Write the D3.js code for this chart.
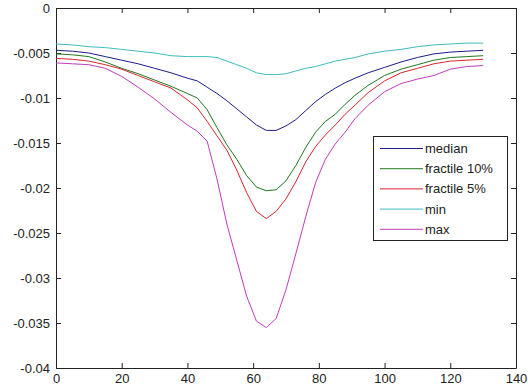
<!DOCTYPE html>
<html>
<head>
<meta charset="utf-8">
<script src="https://cdn.jsdelivr.net/npm/d3@7"></script>
<style>
  html, body { margin: 0; padding: 0; background: #fff; }
  svg { display: block; }
  .axis text { font-family: "Liberation Sans", Arial, sans-serif; font-size: 13px; fill: #222; }
  .axis line, .axis path { stroke: #222; }
  .legend text { font-family: "Liberation Sans", Arial, sans-serif; font-size: 13px; fill: #222; }
</style>
</head>
<body>
<div id="chart"></div>
<script>
const xs = [0, 5, 10, 15, 20, 25, 30, 35, 40, 43, 46, 49, 52, 55, 58, 61, 64, 67, 70,
  73, 76, 79, 82, 85, 88, 91, 95, 100, 105, 110, 115, 120, 125, 130];

const median = [-0.0047, -0.0048, -0.0050, -0.0054, -0.0058, -0.0062, -0.0067, -0.0072, -0.0078,
  -0.0081, -0.0088, -0.0095, -0.0103, -0.0112, -0.0121, -0.0130, -0.0136, -0.0136, -0.0131,
  -0.0124, -0.0114, -0.0104, -0.0096, -0.0089, -0.0083, -0.0078, -0.0072, -0.0066, -0.0060,
  -0.0055, -0.0051, -0.0049, -0.0048, -0.0047];

const fractile10 = [-0.0051, -0.0052, -0.0054, -0.0060, -0.0067, -0.0073, -0.0080, -0.0087, -0.0095,
  -0.0100, -0.0113, -0.0133, -0.0152, -0.0168, -0.0186, -0.0199, -0.0203, -0.0202, -0.0192,
  -0.0175, -0.0155, -0.0138, -0.0126, -0.0118, -0.0107, -0.0097, -0.0086, -0.0075, -0.0068,
  -0.0063, -0.0058, -0.0055, -0.0054, -0.0053];

const fractile5 = [-0.0056, -0.0057, -0.0059, -0.0063, -0.0068, -0.0075, -0.0082, -0.0089, -0.0102,
  -0.0111, -0.0126, -0.0142, -0.0158, -0.0180, -0.0205, -0.0226, -0.0234, -0.0226, -0.0212,
  -0.0193, -0.0171, -0.0154, -0.0141, -0.0130, -0.0118, -0.0108, -0.0094, -0.0081, -0.0072,
  -0.0067, -0.0062, -0.0059, -0.0058, -0.0057];

const minSeries = [-0.0040, -0.0041, -0.0043, -0.0044, -0.0046, -0.0048, -0.0050, -0.0053, -0.0054,
  -0.0054, -0.0054, -0.0055, -0.0059, -0.0063, -0.0067, -0.0072, -0.0074, -0.0074, -0.0073,
  -0.0070, -0.0067, -0.0065, -0.0062, -0.0059, -0.0057, -0.0055, -0.0051, -0.0048, -0.0046,
  -0.0043, -0.0041, -0.0040, -0.0039, -0.0039];

const maxSeries = [-0.0061, -0.0062, -0.0063, -0.0067, -0.0076, -0.0088, -0.0101, -0.0116, -0.0130,
  -0.0137, -0.0148, -0.0190, -0.0240, -0.0280, -0.0320, -0.0348, -0.0355, -0.0345, -0.0313,
  -0.0273, -0.0232, -0.0194, -0.0168, -0.0151, -0.0138, -0.0123, -0.0108, -0.0093, -0.0084,
  -0.0079, -0.0075, -0.0068, -0.0065, -0.0064];

const seriesNames = ['median', 'fractile 10%', 'fractile 5%', 'min', 'max'];
const seriesColors = ['#1c1c8a', '#1f7a1f', '#d8262e', '#3cbcc0', '#c03cc0'];
const seriesValues = [median, fractile10, fractile5, minSeries, maxSeries];

const xTicks = [0, 20, 40, 60, 80, 100, 120, 140];
const yTicks = [0, -0.005, -0.01, -0.015, -0.02, -0.025, -0.03, -0.035, -0.04];

const width = 528, height = 389;
const margin = { top: 8, right: 12, bottom: 21, left: 56 };
const W = width - margin.left - margin.right;
const H = height - margin.top - margin.bottom;

const x = d3.scaleLinear().domain([0, 140]).range([0, W]);
const y = d3.scaleLinear().domain([-0.04, 0]).range([H, 0]);

const svg = d3.select('#chart').append('svg')
  .attr('width', width)
  .attr('height', height);

const g = svg.append('g').attr('transform', `translate(${margin.left},${margin.top})`);

const fmt = d => d === 0 ? '0' : String(+d.toFixed(3));

// axes (ticks point inward, like the matlab box)
g.append('g').attr('class', 'axis')
  .attr('transform', `translate(0,${H})`)
  .call(d3.axisBottom(x).tickValues(xTicks).tickSizeInner(-5).tickSizeOuter(0).tickPadding(4).tickFormat(d3.format('d')))
  .call(a => a.selectAll('text').attr('dy', '0.85em'));

g.append('g').attr('class', 'axis')
  .call(d3.axisLeft(y).tickValues(yTicks).tickSizeInner(-5).tickSizeOuter(0).tickPadding(6).tickFormat(fmt));

g.append('g').attr('class', 'axis')
  .call(d3.axisTop(x).tickValues(xTicks).tickSizeInner(-5).tickSizeOuter(0).tickFormat(''));

g.append('g').attr('class', 'axis')
  .attr('transform', `translate(${W},0)`)
  .call(d3.axisRight(y).tickValues(yTicks).tickSizeInner(-5).tickSizeOuter(0).tickFormat(''));

// lines
const line = d3.line().x((d, i) => x(xs[i])).y(d => y(d));

seriesValues.forEach((vals, k) => {
  g.append('path')
    .datum(vals)
    .attr('fill', 'none')
    .attr('stroke', seriesColors[k])
    .attr('stroke-width', 1)
    .attr('d', line);
});

// legend
const lg = svg.append('g').attr('class', 'legend').attr('transform', 'translate(373,136)');
lg.append('rect')
  .attr('x', 0.5).attr('y', 0.5)
  .attr('width', 134).attr('height', 104)
  .attr('fill', '#fff').attr('stroke', '#222');

seriesNames.forEach((name, k) => {
  const yy = 12.5 + k * 20.2;
  lg.append('line')
    .attr('x1', 7).attr('x2', 50)
    .attr('y1', yy).attr('y2', yy)
    .attr('stroke', seriesColors[k]).attr('stroke-width', 1);
  lg.append('text')
    .attr('x', 52).attr('y', yy)
    .attr('dy', '0.35em')
    .text(name);
});
</script>
</body>
</html>
